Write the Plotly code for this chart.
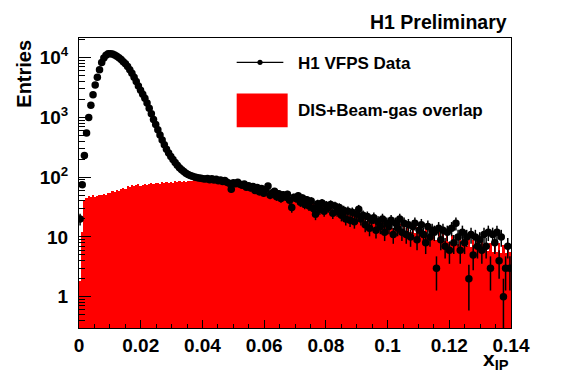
import numpy as np
import plotly.graph_objects as go

# ---- data -------------------------------------------------------------
x_min, x_max, n_bins = 0.0, 0.14, 200

data_counts = [
    20, 75, 230, 550, 1000, 1600, 2400, 3500, 4700, 6300,
    8300, 9900, 11000, 11600, 11700, 11500, 11100, 10600, 10000, 9300,
    8600, 7900, 7100, 6300, 5500, 4700, 4000, 3350, 2850, 2450,
    2100, 1750, 1420, 1150, 920, 760, 620, 510, 420, 350,
    295, 255, 222, 197, 176, 158, 144, 133, 124, 117,
    111, 107, 104, 101, 99, 97, 96, 94, 93, 95,
    91, 94, 90, 92, 87, 90, 85, 88, 82, 79,
    63, 81, 78, 82, 76, 73, 77, 68, 72, 66,
    70, 60, 67, 57, 65, 54, 62, 71, 50, 55,
    58, 47, 53, 44, 51, 47, 52, 41, 31, 46,
    44, 49, 38, 45, 35, 42, 33, 40, 30, 24,
    36, 29, 37, 27, 34, 31, 35, 25, 33, 27,
    31, 23, 28, 20, 27, 19, 26, 18, 24, 29,
    20, 23, 16, 22, 14, 19, 21, 13, 18, 15,
    20, 12, 17, 15, 19, 11, 17, 14, 20, 12,
    17, 11, 16, 10, 15, 17, 9, 13, 16, 11,
    8, 15, 10, 13, 12, 3, 14, 9, 13, 7,
    12, 6, 14, 8, 17, 10, 6, 12, 8, 10,
    2, 11, 5, 10, 7, 9, 6, 11, 7, 12,
    3, 11, 8, 12, 4, 10, 1, 3, 7, 3,
]

overlap_counts = [
    1.8, 12, 42, 45, 48, 46, 50, 47, 49, 51,
    50, 53, 51, 55, 54, 58, 56, 61, 59, 63,
    66, 64, 72, 69, 74, 71, 73, 76, 72, 75,
    78, 74, 77, 80, 76, 79, 81, 77, 82, 79,
    83, 80, 84, 81, 86, 82, 85, 83, 87, 84,
    88, 85, 87, 89, 86, 90, 87, 88, 84, 89,
    85, 82, 84, 80, 82, 78, 80, 76, 78, 74,
    75, 71, 73, 69, 70, 66, 68, 63, 65, 61,
    63, 59, 61, 57, 59, 56, 57, 54, 56, 53,
    54.5, 52, 53.5, 50.5, 52, 49, 50.5, 47.5, 49, 46,
    48, 43, 47, 42, 45, 40, 43, 37, 41, 36,
    39, 33, 37, 32, 35, 30, 33, 28, 32, 27,
    30, 25.5, 29, 24, 27.5, 23, 26, 22, 25, 20.5,
    23.5, 19.5, 22.5, 18.5, 21, 17.5, 20, 16.5, 19, 15.5,
    18.5, 15, 18, 14.5, 17.5, 14, 17, 13.5, 16.5, 13,
    16, 12.5, 15.5, 12, 15, 11.5, 14.5, 11, 14, 10.5,
    13.5, 10, 13, 9.5, 12.5, 9, 12, 9, 11.5, 8.5,
    11, 8.2, 10.6, 7.8, 10.2, 7.5, 9.8, 7.2, 9.4, 7,
    9.2, 6.8, 8.8, 6.5, 8.5, 6.2, 8.2, 6, 8, 5.8,
    7.8, 5.6, 7.6, 5.5, 8, 5.4, 7.2, 5.3, 6.8, 5.7,
]

x_tick_vals = [0, 0.02, 0.04, 0.06, 0.08, 0.1, 0.12, 0.14]
x_tick_text = ["0", "0.02", "0.04", "0.06", "0.08", "0.1", "0.12", "0.14"]
y_tick_vals = [1, 10, 100, 1000, 10000]
y_tick_text = ["1", "10", "10<sup>2</sup>", "10<sup>3</sup>", "10<sup>4</sup>"]

# ---- derived ----------------------------------------------------------
edges = np.linspace(x_min, x_max, n_bins + 1)
centers = 0.5 * (edges[:-1] + edges[1:])
bw = edges[1] - edges[0]
d = np.array(data_counts, dtype=float)
err = np.sqrt(d)
err_minus = np.minimum(err, d - 1e-3)

minor_y = []
for dec in [0.1, 1, 10, 100, 1000, 10000]:
    for k in range(2, 10):
        minor_y.append(k * dec)

FONT = "Liberation Sans"

fig = go.Figure()
fig.add_trace(go.Bar(
    x=centers, y=overlap_counts, width=bw,
    marker=dict(color="#ff0000", line=dict(width=0)),
    showlegend=False, hoverinfo="skip",
))
fig.add_trace(go.Scatter(
    x=centers, y=d, mode="markers",
    marker=dict(color="black", size=7.5, symbol="circle"),
    error_y=dict(type="data", array=err, arrayminus=err_minus, symmetric=False,
                 color="black", thickness=1.5, width=0),
    showlegend=False,
))

# page body has an 8px margin; size the figure so the plot frame lands where the reference has it
fig.update_layout(
    width=559, height=375,
    margin=dict(l=71, r=56, t=30, b=55, autoexpand=False),
    paper_bgcolor="white", plot_bgcolor="white",
    bargap=0,
    font=dict(family=FONT, color="black"),
)

fig.update_xaxes(
    range=[x_min, x_max], showgrid=False, zeroline=False, automargin=False,
    showline=True, linecolor="black", linewidth=1, mirror=True,
    ticks="inside", ticklen=8, tickcolor="black", tickwidth=1,
    tickvals=x_tick_vals, ticktext=x_tick_text,
    tickfont=dict(family=FONT, size=19, weight="bold"),
    minor=dict(ticks="inside", ticklen=4, dtick=0.005, tick0=0, tickcolor="black", showgrid=False),
)
fig.update_yaxes(
    type="log", range=[-0.524, 4.33], showgrid=False, zeroline=False, automargin=False,
    showline=True, linecolor="black", linewidth=1, mirror=True,
    ticks="inside", ticklen=12, tickcolor="black", tickwidth=1,
    tickvals=y_tick_vals, ticktext=y_tick_text,
    tickfont=dict(family=FONT, size=19, weight="bold"),
    ticklabelstandoff=6,
    minor=dict(ticks="inside", ticklen=6, tickvals=minor_y, tickcolor="black", showgrid=False),
)

# ---- texts ------------------------------------------------------------
fig.add_annotation(text="<b>H1 Preliminary</b>", xref="paper", yref="paper",
                   x=0.995, y=1.0, xanchor="right", yanchor="bottom", yshift=3,
                   showarrow=False, font=dict(family=FONT, size=19.5, color="black"))
fig.add_annotation(text="<b>Entries</b>", xref="paper", yref="paper",
                   x=-0.128, y=1.0, xanchor="center", yanchor="top", textangle=-90,
                   showarrow=False, font=dict(family=FONT, size=20, color="black"))
fig.add_annotation(text="<b>x<sub>IP</sub></b>", xref="paper", yref="paper",
                   x=1.0, y=-0.06, xanchor="right", yanchor="top",
                   showarrow=False, font=dict(family=FONT, size=21, color="black"))

# ---- legend (drawn manually) -------------------------------------------
fig.add_shape(type="line", xref="paper", yref="paper",
              x0=0.365, x1=0.473, y0=0.916, y1=0.916, line=dict(color="black", width=1.3))
fig.add_shape(type="circle", xref="paper", yref="paper",
              x0=0.419 - 0.006, x1=0.419 + 0.006, y0=0.916 - 0.009, y1=0.916 + 0.009,
              fillcolor="black", line=dict(color="black", width=0))
fig.add_annotation(text="<b>H1 VFPS Data</b>", xref="paper", yref="paper",
                   x=0.503, y=0.912, xanchor="left", yanchor="middle",
                   showarrow=False, font=dict(family=FONT, size=17, color="black"))
fig.add_shape(type="rect", xref="paper", yref="paper",
              x0=0.365, x1=0.483, y0=0.692, y1=0.809,
              fillcolor="#ff0000", line=dict(width=0))
fig.add_annotation(text="<b>DIS+Beam-gas overlap</b>", xref="paper", yref="paper",
                   x=0.503, y=0.750, xanchor="left", yanchor="middle",
                   showarrow=False, font=dict(family=FONT, size=17, color="black"))

fig.write_html("out.html")
